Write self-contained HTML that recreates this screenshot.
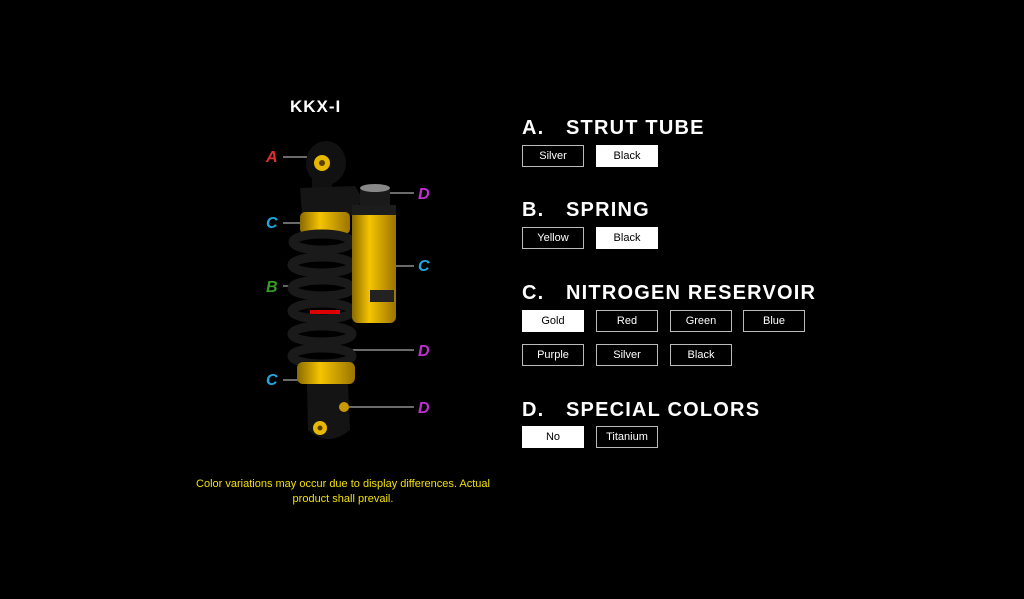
<!DOCTYPE html>
<html><head><style>
body{margin:0;width:1024px;height:599px;background:#000;overflow:hidden;position:relative;font-family:"Liberation Sans",sans-serif;color:#fff}
.h{position:absolute;left:522px;font-weight:bold;font-size:20px;letter-spacing:1.2px;white-space:nowrap}
.h span{display:inline-block;width:44px}
.b{position:absolute;width:60px;height:20px;border:1px solid #bbb;font-size:11px;line-height:20px;text-align:center;color:#fff;background:#000}
.b.s{background:#fff;color:#000;border-color:#fff}
.note{position:absolute;left:172px;top:477px;width:342px;text-align:center;color:#f0e000;font-size:11px;line-height:15px}
.t{position:absolute;left:290px;top:97px;font-size:17px;font-weight:bold;letter-spacing:1px}
</style></head><body>
<div class="t">KKX-I</div>
<svg width="1024" height="599" style="position:absolute;left:0;top:0">
<defs>
<linearGradient id="g" x1="0" x2="1"><stop offset="0" stop-color="#8a6a00"/><stop offset=".4" stop-color="#f5c400"/><stop offset="1" stop-color="#9a7400"/></linearGradient>
</defs>
<g stroke="#aaa" stroke-width="1.2">
<line x1="283" y1="157" x2="312" y2="157"/><line x1="283" y1="223" x2="300" y2="223"/>
<line x1="283" y1="286" x2="295" y2="286"/><line x1="283" y1="380" x2="302" y2="380"/>
<line x1="388" y1="193" x2="414" y2="193"/><line x1="395" y1="266" x2="414" y2="266"/>
<line x1="335" y1="350" x2="414" y2="350"/><line x1="345" y1="407" x2="414" y2="407"/>
</g>
<ellipse cx="326" cy="163" rx="20" ry="22" fill="#111"/>
<circle cx="322" cy="163" r="8" fill="#e6b800"/><circle cx="322" cy="163" r="3" fill="#5a4000"/>
<rect x="312" y="175" width="20" height="15" fill="#111"/>
<path d="M300 188 L355 186 L362 198 L355 215 L302 215 Z" fill="#151515"/>
<rect x="300" y="212" width="50" height="22" rx="5" fill="url(#g)"/>
<g fill="none" stroke="#1a1a1a" stroke-width="9">
<ellipse cx="322" cy="242" rx="29" ry="8"/><ellipse cx="322" cy="265" rx="30" ry="8"/>
<ellipse cx="322" cy="288" rx="30" ry="8"/><ellipse cx="322" cy="311" rx="30" ry="8"/>
<ellipse cx="322" cy="334" rx="30" ry="8"/><ellipse cx="322" cy="356" rx="30" ry="8"/>
</g>
<rect x="310" y="310" width="30" height="4" fill="#d00"/>
<rect x="297" y="362" width="58" height="22" rx="6" fill="url(#g)"/>
<path d="M307 384 L348 384 L350 430 Q328 448 308 430 Z" fill="#141414"/>
<circle cx="320" cy="428" r="7" fill="#e6b800"/><circle cx="320" cy="428" r="2.5" fill="#5a4000"/>
<circle cx="344" cy="407" r="5" fill="#c89a00"/>
<rect x="352" y="205" width="44" height="118" rx="6" fill="url(#g)"/>
<rect x="360" y="188" width="30" height="22" rx="3" fill="#1a1a1a"/>
<ellipse cx="375" cy="188" rx="15" ry="4" fill="#888"/>
<rect x="370" y="290" width="24" height="12" fill="#222"/>
<rect x="352" y="205" width="44" height="10" fill="#1c1c1c"/>
<g font-family="Liberation Sans,sans-serif" font-style="italic" font-weight="bold" font-size="16">
<text x="266" y="162" fill="#e03030">A</text><text x="266" y="228" fill="#20a8e0">C</text>
<text x="266" y="292" fill="#3a9a2a">B</text><text x="266" y="385" fill="#20a8e0">C</text>
<text x="418" y="199" fill="#c030d0">D</text><text x="418" y="271" fill="#20a8e0">C</text>
<text x="418" y="356" fill="#c030d0">D</text><text x="418" y="413" fill="#c030d0">D</text>
</g>
</svg>
<div class="note">Color variations may occur due to display differences. Actual<br>product shall prevail.</div>
<div class="h" style="top:117px"><span>A.</span>STRUT TUBE</div>
<div class="b" style="left:522px;top:145px">Silver</div><div class="b s" style="left:596px;top:145px">Black</div>
<div class="h" style="top:199px"><span>B.</span>SPRING</div>
<div class="b" style="left:522px;top:227px">Yellow</div><div class="b s" style="left:596px;top:227px">Black</div>
<div class="h" style="top:282px"><span>C.</span>NITROGEN RESERVOIR</div>
<div class="b s" style="left:522px;top:310px">Gold</div><div class="b" style="left:596px;top:310px">Red</div>
<div class="b" style="left:670px;top:310px">Green</div><div class="b" style="left:743px;top:310px">Blue</div>
<div class="b" style="left:522px;top:344px">Purple</div><div class="b" style="left:596px;top:344px">Silver</div>
<div class="b" style="left:670px;top:344px">Black</div>
<div class="h" style="top:399px"><span>D.</span>SPECIAL COLORS</div>
<div class="b s" style="left:522px;top:426px">No</div><div class="b" style="left:596px;top:426px">Titanium</div>
</body></html>
